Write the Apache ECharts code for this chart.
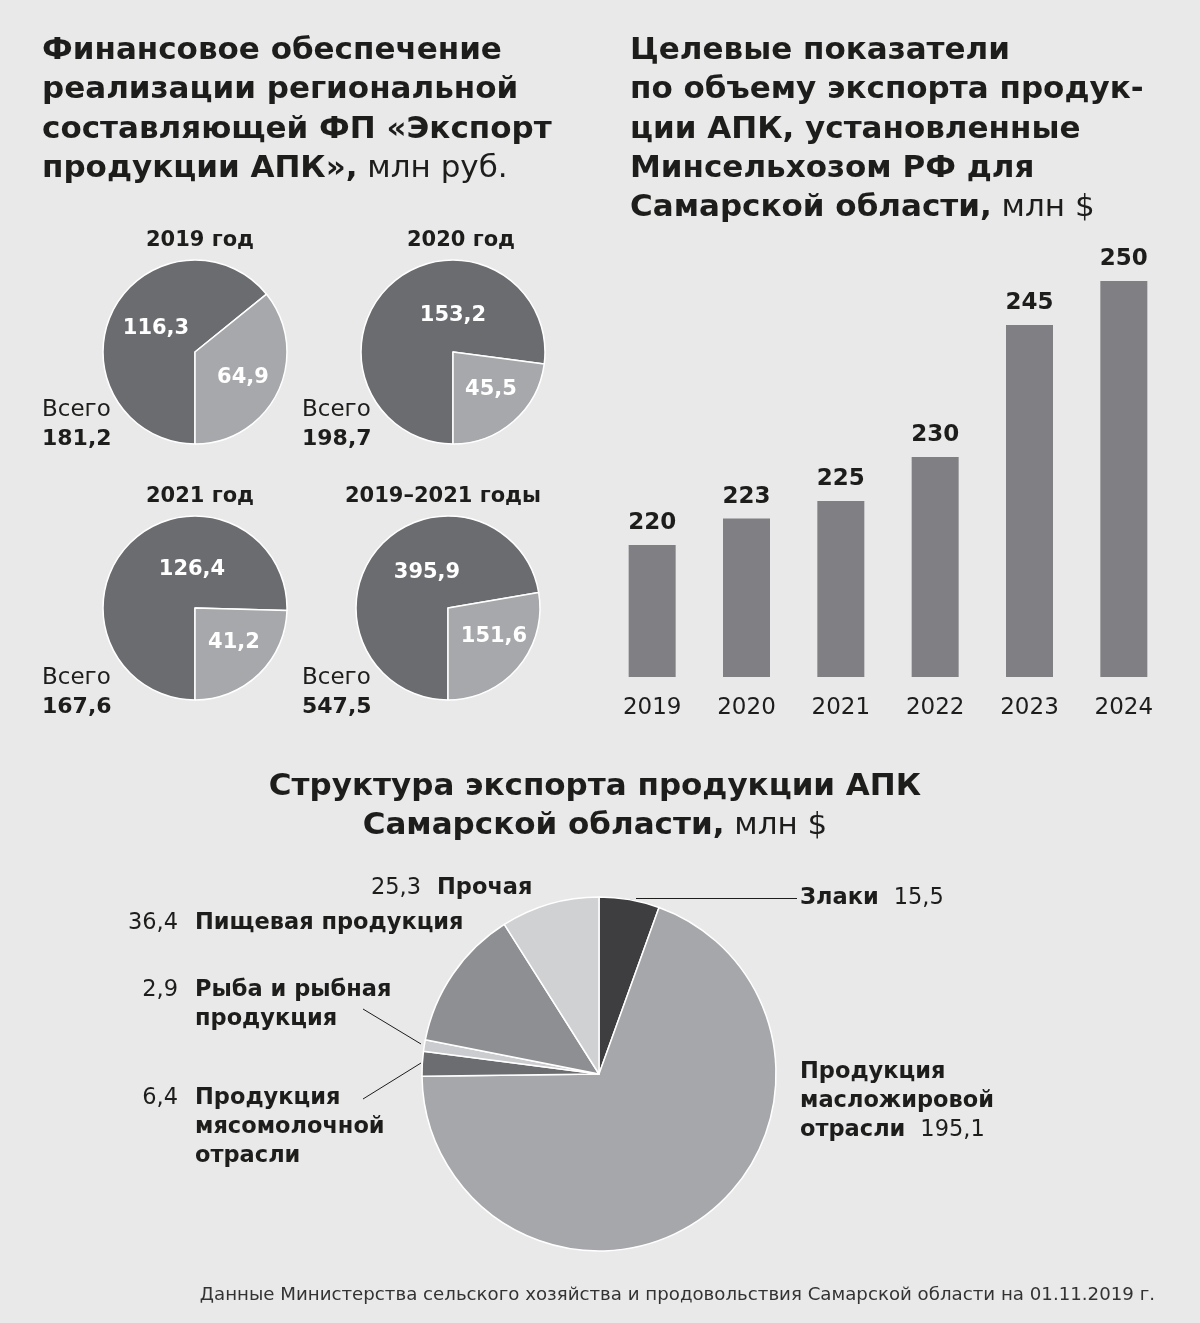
<!DOCTYPE html>
<html><head><meta charset="utf-8">
<script src="https://cdn.jsdelivr.net/npm/echarts@6/dist/echarts.min.js"></script>
<style>html,body{margin:0;padding:0;background:#e9e9ea;}#c{width:1200px;height:1323px;}</style>
</head><body><div id="c"></div>
<script>
// ---- data ----
const pieTitles = ['2019 год', '2020 год', '2021 год', '2019–2021 годы'];
const pieDark = [116.3, 153.2, 126.4, 395.9];
const pieLight = [64.9, 45.5, 41.2, 151.6];
const pieTotals = ['181,2', '198,7', '167,6', '547,5'];

const barYears = ['2019', '2020', '2021', '2022', '2023', '2024'];
const barValues = [220, 223, 225, 230, 245, 250];

const exportNames = ['Злаки', 'Продукция масложировой отрасли', 'Продукция мясомолочной отрасли', 'Рыба и рыбная продукция', 'Пищевая продукция', 'Прочая'];
const exportLines = [['Злаки'], ['Продукция', 'масложировой', 'отрасли'], ['Продукция', 'мясомолочной', 'отрасли'], ['Рыба и рыбная', 'продукция'], ['Пищевая продукция'], ['Прочая']];
const exportValues = [15.5, 195.1, 6.4, 2.9, 36.4, 25.3];

// ---- styling / layout ----
const FONT = 'DejaVu Sans';
const TXT = '#1d1d1b';
const fmt = v => String(v).replace('.', ',');

const smallPies = [
  {c: [195, 352], r: 92, title: [200, 241], tot: [42, 410], lab: [[156, 329], [243, 378]]},
  {c: [453, 352], r: 92, title: [461, 241], tot: [302, 410], lab: [[453, 316], [491, 390]]},
  {c: [195, 608], r: 92, title: [200, 497], tot: [42, 678], lab: [[192, 570], [234, 643]]},
  {c: [448, 608], r: 92, title: [443, 497], tot: [302, 678], lab: [[427, 573], [494, 637]]}
];

// label anchor: name block (left x, first line centre y), number (right x) for left-side labels
const bigLayout = [
  {nx: 800, y: 898, inline: true, line: [[636, 898.5], [797, 898.5]]},
  {nx: 800, y: 1072, inline: true},
  {nx: 195, y: 1098, vx: 178, line: [[421, 1063], [363, 1099]]},
  {nx: 195, y: 990, vx: 178, line: [[421, 1044], [363, 1009]]},
  {nx: 195, y: 923, vx: 178},
  {nx: 437, y: 888, vx: 421}
];
const bigColors = ['#3e3e40', '#a6a7aa', '#6c6d71', '#cbcccf', '#8e8f92', '#d0d1d3'];
const LH = 29;
const BFS = 22.5;

const richNames = {
  n: {fontFamily: FONT, fontSize: BFS, fontWeight: 'bold', color: TXT, lineHeight: LH, align: 'left'},
  sp: {width: 15, lineHeight: LH, align: 'left'},
  v: {fontFamily: FONT, fontSize: BFS, color: TXT, lineHeight: LH, align: 'left'}
};
function nameLabel(i) {
  const lines = exportLines[i].map(s => '{n|' + s + '}');
  if (bigLayout[i].inline) lines[lines.length - 1] += '{sp|}{v|' + fmt(exportValues[i]) + '}';
  return lines.join('\n');
}

const series = [];
smallPies.forEach((p, k) => {
  series.push({
    type: 'pie', center: p.c, radius: p.r, startAngle: -90, clockwise: true,
    silent: true, animation: false,
    itemStyle: {borderColor: '#ffffff', borderWidth: 1.5},
    label: {show: true, position: 'inside', color: '#ffffff', fontFamily: FONT, fontWeight: 'bold', fontSize: 21,
      formatter: q => fmt(q.value)},
    labelLine: {show: false},
    labelLayout: q => ({x: p.lab[q.dataIndex][0], y: p.lab[q.dataIndex][1], align: 'center', verticalAlign: 'middle'}),
    data: [
      {value: pieDark[k], itemStyle: {color: '#6b6c70'}},
      {value: pieLight[k], itemStyle: {color: '#a7a8ab'}}
    ]
  });
});

series.push({
  type: 'bar', xAxisIndex: 0, yAxisIndex: 0, barWidth: 47, silent: true, animation: false,
  itemStyle: {color: '#808084'},
  label: {show: true, position: 'top', distance: 10, color: TXT, fontFamily: FONT, fontWeight: 'bold', fontSize: 23},
  data: barValues
});

const bigCenter = [599, 1074], bigR = 177;
// slices + names
series.push({
  type: 'pie', center: bigCenter, radius: bigR, startAngle: 90, clockwise: true,
  silent: true, animation: false,
  itemStyle: {borderColor: '#ffffff', borderWidth: 1.5},
  label: {show: true, position: 'outside', align: 'left', formatter: q => nameLabel(q.dataIndex), rich: richNames},
  labelLine: {show: true, lineStyle: {color: '#1d1d1b', width: 1}},
  labelLayout: q => {
    const L = bigLayout[q.dataIndex];
    return {x: L.nx, y: L.y - LH / 2, align: 'left', verticalAlign: 'top',
      labelLinePoints: L.line ? L.line : [[0, 0], [0, 0]]};
  },
  data: exportNames.map((n, i) => ({name: n, value: exportValues[i], itemStyle: {color: bigColors[i]},
    labelLine: {show: !!bigLayout[i].line, lineStyle: {color: '#1d1d1b', width: 1}}}))
});
// same slices, invisible, carrying the right-aligned numbers of the left-side labels
series.push({
  type: 'pie', center: bigCenter, radius: bigR, startAngle: 90, clockwise: true,
  silent: true, animation: false, z: 3,
  itemStyle: {color: 'rgba(0,0,0,0)', borderWidth: 0},
  label: {show: true, position: 'outside', fontFamily: FONT, fontSize: BFS, color: TXT,
    formatter: q => bigLayout[q.dataIndex].inline ? '' : fmt(q.value)},
  labelLine: {show: false},
  labelLayout: q => {
    const L = bigLayout[q.dataIndex];
    return {x: L.vx || 0, y: L.y, align: 'right', verticalAlign: 'middle'};
  },
  data: exportNames.map((n, i) => ({name: n, value: exportValues[i]}))
});

const graphics = [];
const T = (x, y, text, size, weight, align, extra) => graphics.push({type: 'text', x: x, y: y, silent: true,
  style: Object.assign({text: text, fill: TXT, fontFamily: FONT, fontSize: size, fontWeight: weight, align: align || 'left', verticalAlign: 'middle'}, extra || {})});

const TFS = 31;
const titleRich = {
  b: {fontFamily: FONT, fontSize: TFS, fontWeight: 'bold', fill: TXT, color: TXT, lineHeight: 39.4},
  n: {fontFamily: FONT, fontSize: TFS, fontWeight: 'normal', fill: TXT, color: TXT, lineHeight: 39.4}
};
graphics.push({type: 'text', x: 42, y: 31, silent: true, style: {
  text: '{b|Финансовое обеспечение}\n{b|реализации региональной}\n{b|составляющей ФП «Экспорт}\n{b|продукции АПК»,}{n| млн руб.}',
  rich: titleRich, verticalAlign: 'top', align: 'left', fill: TXT}});
graphics.push({type: 'text', x: 630, y: 31, silent: true, style: {
  text: '{b|Целевые показатели}\n{b|по объему экспорта продук-}\n{b|ции АПК, установленные}\n{b|Минсельхозом РФ для}\n{b|Самарской области,}{n| млн $}',
  rich: titleRich, verticalAlign: 'top', align: 'left', fill: TXT}});
graphics.push({type: 'text', x: 595, y: 767, silent: true, style: {
  text: '{b|Структура экспорта продукции АПК}\n{b|Самарской области,}{n| млн $}',
  rich: titleRich, verticalAlign: 'top', align: 'center', fill: TXT}});

smallPies.forEach((p, k) => {
  T(p.title[0], p.title[1], pieTitles[k], 21, 'bold', 'center');
  T(p.tot[0], p.tot[1], 'Всего', 23, 'normal', 'left');
  T(p.tot[0], p.tot[1] + 29, pieTotals[k], 22, 'bold', 'left');
});
T(1155, 1295, 'Данные Министерства сельского хозяйства и продовольствия Самарской области на 01.11.2019 г.', 18.2, 'normal', 'right', {fill: '#333333'});

const chart = echarts.init(document.getElementById('c'), null, {renderer: 'canvas'});
chart.setOption({
  backgroundColor: '#e9e9ea',
  animation: false,
  grid: {left: 605, right: 29, top: 281, bottom: 646, containLabel: false},
  xAxis: {type: 'category', data: barYears, axisLine: {show: false}, axisTick: {show: false},
    axisLabel: {color: TXT, fontFamily: FONT, fontSize: 23, margin: 20}},
  yAxis: {type: 'value', min: 205, max: 250, show: false, splitLine: {show: false}},
  series: series,
  graphic: graphics
});
</script></body></html>
